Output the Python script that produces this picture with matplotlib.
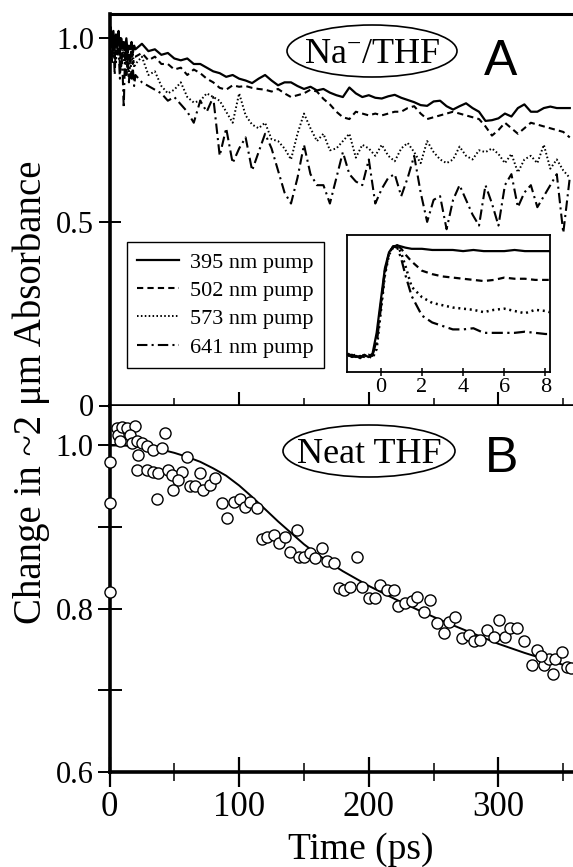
import numpy as np
import matplotlib
matplotlib.use('Agg')
import matplotlib.pyplot as plt
from matplotlib.patches import Ellipse

# ----------------------------------------------------------------------
# data
# ----------------------------------------------------------------------
# panel A: time grid (1 ps early, 5 ps later)
time_a = np.r_[np.arange(0, 20, 1), np.arange(20, 360, 5)]

abs_395 = [1.00, 1.03, 0.98, 1.02, 0.97, 1.01, 0.99, 1.02, 0.96, 1.00,
           0.98, 0.99, 0.97, 1.00, 0.96, 0.98, 0.97, 0.99, 0.96, 0.98,
           0.970, 0.985, 0.965, 0.970, 0.955, 0.960, 0.945, 0.940, 0.945, 0.930,
           0.930, 0.920, 0.910, 0.905, 0.895, 0.900, 0.890, 0.885, 0.878, 0.890,
           0.900, 0.885, 0.872, 0.880, 0.880, 0.870, 0.862, 0.868, 0.858, 0.862,
           0.852, 0.845, 0.840, 0.866, 0.850, 0.840, 0.845, 0.838, 0.836, 0.842,
           0.846, 0.838, 0.832, 0.826, 0.818, 0.816, 0.828, 0.830, 0.815, 0.806,
           0.815, 0.823, 0.810, 0.800, 0.775, 0.777, 0.782, 0.795, 0.787, 0.810,
           0.820, 0.800, 0.800, 0.810, 0.814, 0.810, 0.810, 0.810]
abs_502 = [0.99, 1.02, 0.96, 1.00, 0.94, 1.01, 0.97, 0.99, 0.93, 0.98,
           0.95, 0.99, 0.94, 0.97, 0.92, 0.96, 0.95, 0.97, 0.93, 0.95,
           0.950, 0.960, 0.940, 0.950, 0.930, 0.930, 0.915, 0.920, 0.900, 0.915,
           0.905, 0.890, 0.880, 0.865, 0.860, 0.872, 0.868, 0.870, 0.865, 0.862,
           0.860, 0.855, 0.862, 0.850, 0.840, 0.845, 0.850, 0.860, 0.855, 0.835,
           0.820, 0.800, 0.785, 0.780, 0.800, 0.795, 0.790, 0.795, 0.790, 0.795,
           0.800, 0.800, 0.810, 0.815, 0.795, 0.780, 0.785, 0.790, 0.795, 0.800,
           0.795, 0.790, 0.785, 0.780, 0.760, 0.735, 0.750, 0.770, 0.755, 0.740,
           0.755, 0.770, 0.765, 0.760, 0.755, 0.750, 0.745, 0.730]
abs_573 = [1.00, 0.97, 1.02, 0.95, 0.99, 0.93, 1.00, 0.96, 0.98, 0.92,
           0.97, 0.94, 0.99, 0.93, 0.96, 0.91, 0.95, 0.93, 0.96, 0.92,
           0.930, 0.950, 0.900, 0.910, 0.870, 0.850, 0.860, 0.880, 0.840, 0.825,
           0.830, 0.850, 0.840, 0.830, 0.800, 0.770, 0.850, 0.790, 0.765, 0.755,
           0.770, 0.725, 0.720, 0.700, 0.670, 0.740, 0.795, 0.755, 0.720, 0.740,
           0.695, 0.700, 0.720, 0.740, 0.675, 0.710, 0.700, 0.680, 0.710, 0.680,
           0.665, 0.700, 0.715, 0.690, 0.660, 0.720, 0.690, 0.670, 0.660, 0.670,
           0.705, 0.680, 0.670, 0.695, 0.690, 0.700, 0.685, 0.660, 0.685, 0.635,
           0.670, 0.680, 0.660, 0.710, 0.645, 0.670, 0.640, 0.620]
abs_641 = [0.98, 1.03, 0.93, 1.00, 0.90, 0.99, 0.95, 0.97, 0.89, 0.96,
           0.92, 0.81, 0.96, 0.90, 0.94, 0.88, 0.95, 0.89, 0.92, 0.87,
           0.900, 0.880, 0.870, 0.860, 0.850, 0.830, 0.840, 0.820, 0.800, 0.770,
           0.830, 0.800, 0.840, 0.680, 0.755, 0.660, 0.700, 0.730, 0.640, 0.690,
           0.740, 0.700, 0.640, 0.580, 0.550, 0.620, 0.710, 0.630, 0.600, 0.600,
           0.550, 0.620, 0.690, 0.630, 0.610, 0.600, 0.670, 0.550, 0.590, 0.620,
           0.630, 0.570, 0.620, 0.680, 0.580, 0.500, 0.560, 0.570, 0.480, 0.560,
           0.600, 0.560, 0.520, 0.490, 0.600, 0.550, 0.490, 0.600, 0.630, 0.540,
           0.580, 0.600, 0.540, 0.570, 0.600, 0.630, 0.470, 0.620]

pump_labels = ['395 nm pump', '502 nm pump', '573 nm pump', '641 nm pump']

# inset: early-time traces (ps)
time_in = [-1.6, -1.4, -1.2, -1.0, -0.8, -0.6, -0.4, -0.2, 0.0, 0.2, 0.4, 0.6,
           0.8, 1.0, 1.2, 1.5, 2.0, 2.5, 3.0, 3.5, 4.0, 4.5, 5.0, 5.5, 6.0,
           6.5, 7.0, 7.5, 8.0, 8.2]
in_395 = [0.05, 0.03, 0.04, 0.02, 0.05, 0.03, 0.06, 0.24, 0.52, 0.80, 0.94, 0.99,
          1.00, 0.99, 0.98, 0.97, 0.97, 0.96, 0.96, 0.96, 0.95, 0.96, 0.95, 0.95,
          0.95, 0.96, 0.95, 0.95, 0.95, 0.95]
in_502 = [0.04, 0.05, 0.03, 0.04, 0.03, 0.05, 0.04, 0.18, 0.48, 0.78, 0.93, 0.99,
          1.00, 0.97, 0.92, 0.86, 0.78, 0.75, 0.73, 0.72, 0.71, 0.70, 0.69, 0.70,
          0.72, 0.71, 0.71, 0.70, 0.70, 0.70]
in_573 = [0.05, 0.04, 0.05, 0.03, 0.04, 0.04, 0.02, 0.10, 0.42, 0.74, 0.92, 0.98,
          1.00, 0.93, 0.82, 0.64, 0.55, 0.50, 0.48, 0.46, 0.45, 0.44, 0.42, 0.44,
          0.45, 0.43, 0.41, 0.44, 0.43, 0.42]
in_641 = [0.06, 0.04, 0.03, 0.05, 0.04, 0.03, 0.05, 0.15, 0.45, 0.76, 0.93, 0.99,
          0.98, 0.88, 0.74, 0.56, 0.39, 0.33, 0.30, 0.27, 0.27, 0.28, 0.24, 0.24,
          0.24, 0.24, 0.25, 0.24, 0.23, 0.23]

# panel B: neat THF points and fit
thf_t = [0.4, 0.4, 0.4, 5.5, 6.8, 9.4, 13.3, 19.7, 8.1, 15.8, 17.1, 21.0, 24.8,
         22.3, 28.7, 33.8, 40.3, 42.9, 59.6, 21.0, 28.7, 33.8, 37.7, 45.4, 48.0,
         55.7, 53.2, 49.3, 36.4, 62.2, 66.0, 72.5, 69.9, 77.6, 81.5, 86.6, 90.5,
         95.7, 100.8, 104.6, 108.5, 113.6, 117.5, 121.4, 126.5, 130.4, 135.5,
         139.4, 144.5, 145.8,
         149.7, 154.7, 158.6, 163.7, 167.6, 172.8, 190.8, 176.7, 180.6, 185.6,
         194.7, 199.8, 204.9, 208.8, 214.0, 219.2, 222.9, 228.1, 233.3, 237.1,
         242.3, 247.4, 252.6, 257.7, 261.6, 266.8, 271.9, 277.0, 280.9, 286.1,
         291.2, 296.3, 300.2, 305.4, 309.2, 314.4, 319.5, 326.0, 329.8, 335.0,
         338.9, 344.0, 349.2, 353.0, 342.0, 356.0, 333.0]
thf_v = [0.980, 0.929, 0.820, 1.021, 1.013, 1.023, 1.021, 1.024, 1.005, 1.013,
         1.003, 1.005, 1.003, 0.988, 0.999, 0.995, 0.997, 1.015, 0.986, 0.970,
         0.970, 0.968, 0.966, 0.970, 0.964, 0.968, 0.958, 0.946, 0.935, 0.950,
         0.950, 0.946, 0.966, 0.952, 0.960, 0.929, 0.911, 0.931, 0.935, 0.925,
         0.931, 0.923, 0.886, 0.888, 0.890, 0.880, 0.888, 0.870, 0.896, 0.864,
         0.864, 0.868, 0.862, 0.874, 0.858, 0.856, 0.864, 0.825, 0.823, 0.827,
         0.827, 0.813, 0.813, 0.829, 0.823, 0.823, 0.803, 0.807, 0.809, 0.815,
         0.796, 0.811, 0.782, 0.770, 0.784, 0.790, 0.764, 0.768, 0.760, 0.762,
         0.774, 0.766, 0.786, 0.766, 0.776, 0.776, 0.760, 0.731, 0.749, 0.731,
         0.739, 0.739, 0.747, 0.729, 0.720, 0.727, 0.742]
fit_t = [0, 10, 20, 30, 40, 50, 60, 70, 80, 90, 100, 110, 120, 130, 140, 150,
         160, 170, 180, 190, 200, 220, 240, 260, 280, 300, 320, 340, 357]
fit_v = [1.000, 1.000, 0.999, 0.997, 0.995, 0.991, 0.986, 0.980, 0.972, 0.963,
         0.951, 0.937, 0.922, 0.907, 0.893, 0.879, 0.867, 0.856, 0.846, 0.837,
         0.828, 0.812, 0.797, 0.783, 0.770, 0.757, 0.746, 0.736, 0.728]

# ----------------------------------------------------------------------
# figure
# ----------------------------------------------------------------------
plt.rcParams['font.family'] = ['Liberation Serif', 'DejaVu Serif']
plt.rcParams['mathtext.fontset'] = 'custom'
plt.rcParams['mathtext.rm'] = 'Liberation Serif'
plt.rcParams['mathtext.it'] = 'Liberation Serif:italic'

W, H = 573, 867
fig = plt.figure(figsize=(W / 100, H / 100), dpi=100)


def fx(px):
    return px / W


def fy(py):
    return 1 - py / H


X0 = 109.5
ax_a = fig.add_axes([fx(X0), fy(405.5), fx(W - X0), (405.5 - 13.5) / H])
ax_b = fig.add_axes([fx(X0), fy(772), fx(W - X0), (772 - 405.5) / H])

styles = [dict(ls='-', lw=1.6),
          dict(ls=(0, (3.0, 2.0)), lw=1.5),
          dict(ls=(0, (0.8, 1.2)), lw=1.4),
          dict(ls=(0, (5.0, 2.0, 1.0, 2.0)), lw=1.5)]

for vals, lab, st in zip([abs_395, abs_502, abs_573, abs_641], pump_labels, styles):
    ax_a.plot(time_a, vals, color='black', label=lab, **st)

ax_a.set_xlim(0, 357.5)
ax_a.set_ylim(0, 1.0675)
ax_a.set_xticks([0, 100, 200, 300])
ax_a.set_xticks([50, 150, 250, 350], minor=True)
ax_a.set_xticklabels([])
ax_a.set_yticks([0, 0.5, 1.0])
ax_a.set_yticklabels(['0', '0.5', '1.0'])
ax_a.spines['right'].set_visible(False)
for s in ['left', 'bottom']:
    ax_a.spines[s].set_linewidth(2.6)
ax_a.spines['top'].set_linewidth(2.2)
ax_a.tick_params(axis='x', which='major', direction='inout', length=20, width=1.5)
ax_a.tick_params(axis='x', which='minor', direction='inout', length=12, width=1.1)
ax_a.tick_params(axis='y', direction='inout', length=16, width=1.4,
                 labelsize=22, pad=3)

leg = ax_a.legend(loc='upper left', bbox_to_anchor=(fx(127), fy(242)),
                  bbox_transform=fig.transFigure, fontsize=16, frameon=True,
                  fancybox=False, edgecolor='black', framealpha=1,
                  borderaxespad=0, handlelength=1.9, handletextpad=0.5,
                  labelspacing=0.35, borderpad=0.45)
leg.get_frame().set_linewidth(1.0)

# inset
ax_in = fig.add_axes([fx(347), fy(372), fx(550 - 347), (372 - 235) / H])
in_styles = [dict(ls='-', lw=1.6),
             dict(ls=(0, (3.0, 2.0)), lw=1.6),
             dict(ls=(0, (0.8, 1.5)), lw=1.8),
             dict(ls=(0, (5.0, 2.0, 1.0, 2.0)), lw=1.6)]
for vals, st in zip([in_395, in_502, in_573, in_641], in_styles):
    ax_in.plot(time_in, vals, color='black', **st)
ax_in.set_xlim(-1.64, 8.22)
ax_in.set_ylim(-0.1, 1.09)
ax_in.set_xticks([0, 2, 4, 6, 8])
ax_in.set_yticks([])
ax_in.tick_params(axis='x', direction='inout', length=6, width=1.1,
                  labelsize=16, pad=1)
for s in ax_in.spines.values():
    s.set_linewidth(1.3)

# panel B
ax_b.plot(fit_t, fit_v, color='black', lw=1.4, zorder=2)
ax_b.plot(thf_t, thf_v, ls='none', marker='o', ms=8, mfc='white',
          mec='black', mew=1.0, zorder=3, clip_on=False)
ax_b.set_xlim(0, 357.5)
ax_b.set_ylim(0.6, 1.049)
ax_b.set_xticks([0, 100, 200, 300])
ax_b.set_xticks([50, 150, 250, 350], minor=True)
ax_b.set_yticks([0.6, 0.7, 0.8, 0.9, 1.0])
ax_b.set_yticklabels(['0.6', '', '0.8', '', '1.0'])
ax_b.spines['right'].set_visible(False)
ax_b.spines['top'].set_visible(False)
for s in ['left', 'bottom']:
    ax_b.spines[s].set_linewidth(2.6)
ax_b.tick_params(axis='x', which='major', direction='inout', length=21.6,
                 width=1.6, labelsize=25, pad=3)
ax_b.tick_params(axis='x', which='minor', direction='inout', length=13, width=1.1)
ax_b.tick_params(axis='y', direction='inout', length=17, width=1.4,
                 labelsize=22, pad=3)

# panel labels
fig.add_artist(Ellipse((fx(372), fy(51)), width=170 / W, height=52 / H,
                       transform=fig.transFigure, fill=False, lw=1.2, ec='black'))
fig.text(fx(372), fy(63), r'Na$^{-}$/THF', ha='center', va='baseline', fontsize=26)
fig.text(fx(501), fy(75), 'A', family='Liberation Sans', ha='center',
         va='baseline', fontsize=36)

fig.add_artist(Ellipse((fx(369), fy(451)), width=172 / W, height=52 / H,
                       transform=fig.transFigure, fill=False, lw=1.2, ec='black'))
fig.text(fx(369), fy(463), 'Neat THF', ha='center', va='baseline', fontsize=26)
fig.text(fx(502), fy(472), 'B', family='Liberation Sans', ha='center',
         va='baseline', fontsize=36)

fig.text(fx(31), fy(392), 'Change in ~2 \u03bcm Absorbance', rotation=90,
         ha='center', va='center', fontsize=28)
fig.text(fx(361), fy(859), 'Time (ps)', ha='center', va='baseline', fontsize=27)

fig.savefig('out.png', dpi=100)
